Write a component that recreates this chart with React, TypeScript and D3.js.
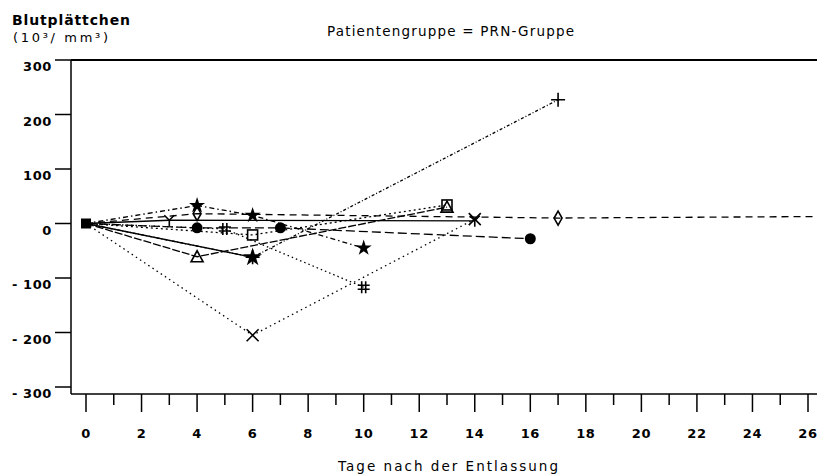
import React from 'react'
import * as d3 from 'd3'

// Patientengruppe = PRN-Gruppe, Blutplättchen change by day
const plusDays = [0, 6, 17]
const plusValues = [0, -62, 227]
const fullStarDays = [0, 6]
const fullStarValues = [0, -62]
const crossDays = [0, 6, 14]
const crossValues = [0, -205, 8]
const hashDays = [0, 5, 10]
const hashValues = [0, -10, -117]
const starDays = [0, 4, 6, 10]
const starValues = [0, 33, 15, -45]
const squareDays = [0, 6, 13]
const squareValues = [0, -21, 34]
const triangleDays = [0, 4, 13]
const triangleValues = [0, -61, 30]
const dotDays = [0, 4, 7, 16]
const dotValues = [0, -8, -8, -28]
const diamondDays = [0, 4, 17, 27]
const diamondValues = [0, 18, 10, 13]
const yDays = [0, 3, 14]
const yValues = [0, 6, 5]

const xTicks = d3.range(0, 27, 1)
const yTicks = [300, 200, 100, 0, -100, -200, -300]

const series = [
  { mark: 'plus', days: plusDays, values: plusValues, dash: '3,2,1,2' },
  { mark: 'fullstar', days: fullStarDays, values: fullStarValues, dash: null },
  { mark: 'cross', days: crossDays, values: crossValues, dash: '1.5,3.5' },
  { mark: 'hash', days: hashDays, values: hashValues, dash: '1.5,3' },
  { mark: 'star', days: starDays, values: starValues, dash: '5,3,1.5,3' },
  { mark: 'square', days: squareDays, values: squareValues, dash: '2,3' },
  { mark: 'triangle', days: triangleDays, values: triangleValues, dash: '8,2' },
  { mark: 'dot', days: dotDays, values: dotValues, dash: '9,4' },
  { mark: 'diamond', days: diamondDays, values: diamondValues, dash: '7,5' },
  { mark: 'y', days: yDays, values: yValues, dash: null },
]

const x = d3.scaleLinear().domain([0, 26]).range([86, 808])
const y = d3.scaleLinear().domain([-300, 300]).range([387, 60])

const font = "'DejaVu Sans', sans-serif"

function Marker({ kind, cx, cy }: { kind: string; cx: number; cy: number }) {
  const t = `translate(${cx},${cy})`
  const s = { stroke: 'black', strokeWidth: 1.6, fill: 'none' }
  if (kind === 'plus') return <path transform={t} d="M-7,0H7M0,-7V7" {...s} />
  if (kind === 'cross') return <path transform={t} d="M-6,-6L6,6M-6,6L6,-6" {...s} />
  if (kind === 'hash') return <path transform={t} d="M-2,-6V6M2,-6V6M-6,-2H6M-6,2H6" {...s} />
  if (kind === 'star') return <path transform={t} d={d3.symbol(d3.symbolStar, 80)()!} fill="black" />
  if (kind === 'fullstar') return <path transform={t} d={d3.symbol(d3.symbolStar, 110)()!} fill="black" />
  if (kind === 'square') return <rect x={cx - 5} y={cy - 5} width={10} height={10} {...s} />
  if (kind === 'triangle') return <path transform={t} d="M0,-6L6,5H-6Z" {...s} />
  if (kind === 'dot') return <circle cx={cx} cy={cy} r={5.5} fill="black" />
  if (kind === 'diamond') return <path transform={t} d="M0,-7L4,0L0,7L-4,0Z" {...s} />
  return <path transform={t} d="M0,0V6M0,0L-5,-5M0,0L5,-5" {...s} />
}

export default function App() {
  const path = d3.line<[number, number]>()
    .x((d) => x(d[0]))
    .y((d) => y(d[1]))

  return (
    <svg width={817} height={476} style={{ position: 'absolute', left: 0, top: 0, background: 'white' }}
      fontFamily={font}>
      {/* frame */}
      <line x1={71} x2={817} y1={60} y2={60} stroke="black" strokeWidth={2} />
      <line x1={71} x2={71} y1={60} y2={394} stroke="black" strokeWidth={1.5} />
      <line x1={71} x2={817} y1={394} y2={394} stroke="black" strokeWidth={1.5} />

      {/* y axis */}
      {yTicks.map((v) => (
        <g key={v}>
          <line x1={55} x2={71} y1={y(v)} y2={y(v)} stroke="black" strokeWidth={1.5} />
          <text x={52} y={y(v) + 11} textAnchor="end" fontSize={13} fontWeight="bold" letterSpacing={0.6}>
            {v < 0 ? `- ${-v}` : v}
          </text>
        </g>
      ))}

      {/* x axis */}
      {xTicks.map((d) => (
        <g key={d}>
          <line x1={x(d)} x2={x(d)} y1={394} y2={d % 2 === 0 ? 412 : 405} stroke="black" strokeWidth={1.5} />
          {d % 2 === 0 && (
            <text x={x(d)} y={438} textAnchor="middle" fontSize={13} fontWeight="bold" letterSpacing={0.6}>{d}</text>
          )}
        </g>
      ))}

      {/* titles */}
      <text x={12} y={25} fontSize={14} fontWeight="bold" textLength={118} lengthAdjust="spacing">Blutplättchen</text>
      <text x={13} y={42} fontSize={13} textLength={95} lengthAdjust="spacing">(10³/ mm³)</text>
      <text x={327} y={36} fontSize={13.5} textLength={247} lengthAdjust="spacing">Patientengruppe = PRN-Gruppe</text>
      <text x={338} y={471} fontSize={13.5} textLength={220} lengthAdjust="spacing">Tage nach der Entlassung</text>

      {/* series */}
      {series.map((s) => {
        const pts = s.days.map((d, i) => [d, s.values[i]] as [number, number])
        return (
          <g key={s.mark}>
            <path d={path(pts)!} fill="none" stroke="black" strokeWidth={1.3}
              strokeDasharray={s.dash ?? undefined} />
            {pts.filter((p) => p[0] > 0 && p[0] <= 26).map((p, i) => (
              <Marker key={i} kind={s.mark} cx={x(p[0])} cy={y(p[1])} />
            ))}
          </g>
        )
      })}
      <rect x={x(0) - 5} y={y(0) - 5} width={10} height={10} fill="black" />
    </svg>
  )
}
